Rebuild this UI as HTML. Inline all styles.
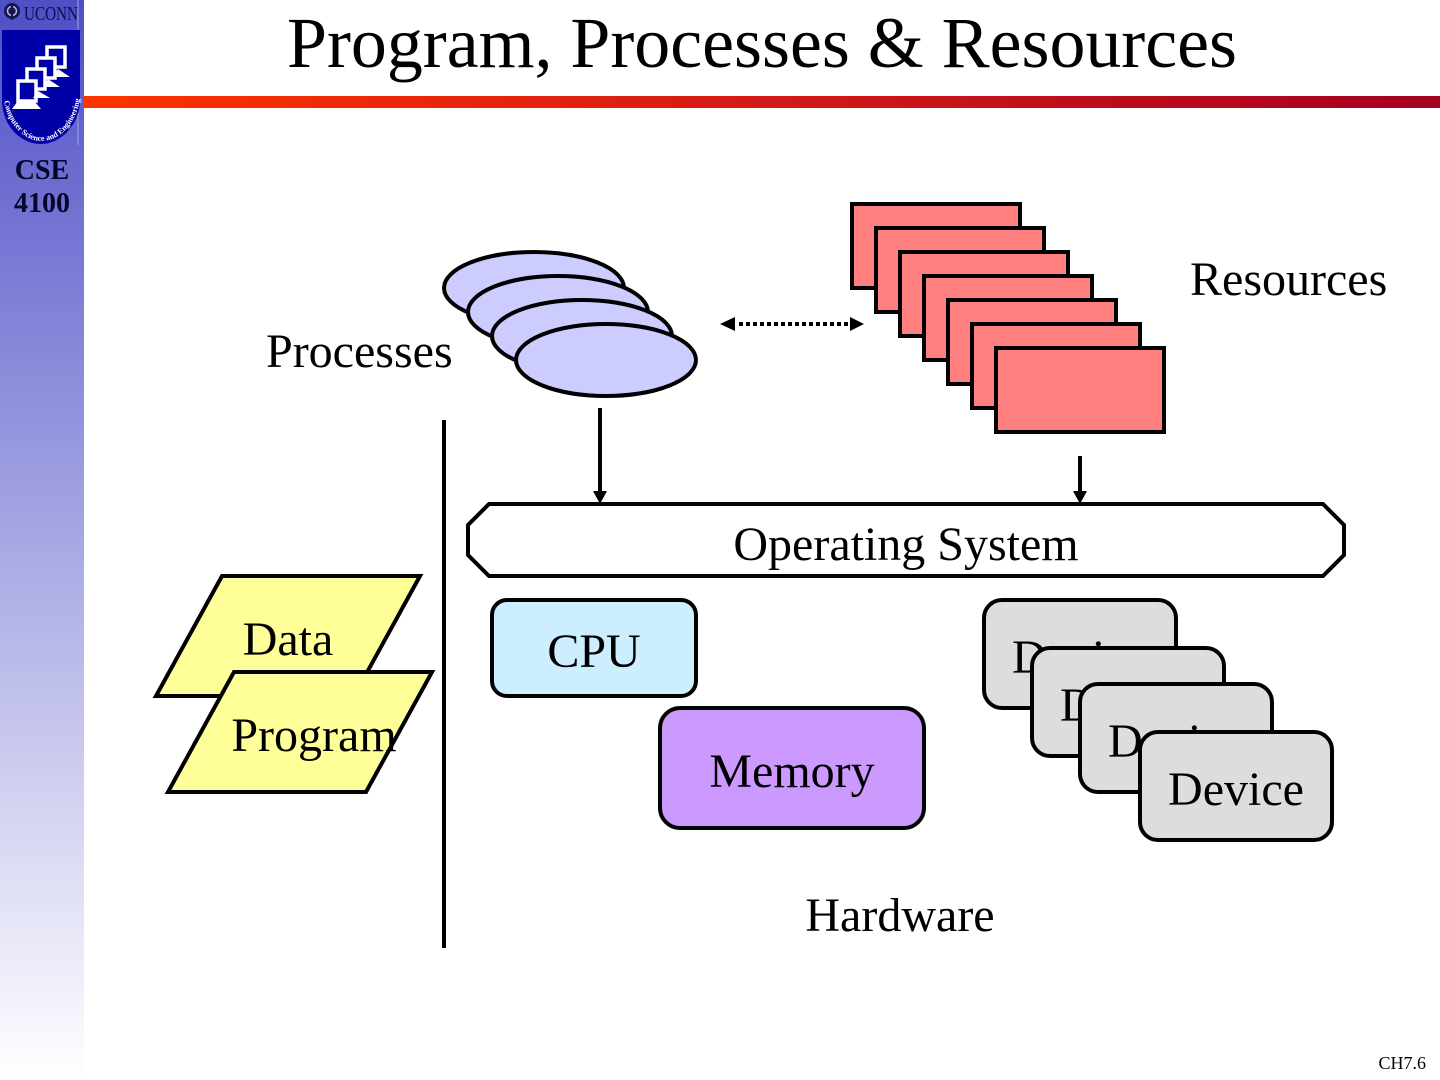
<!DOCTYPE html>
<html>
<head>
<meta charset="utf-8">
<style>
html,body{margin:0;padding:0;background:#fff;width:1440px;height:1080px;overflow:hidden}
svg{display:block}
text{font-family:"Liberation Serif",serif;fill:#000}
</style>
</head>
<body>
<svg width="1440" height="1080" viewBox="0 0 1440 1080" xmlns="http://www.w3.org/2000/svg">
<defs>
<linearGradient id="side" x1="0" y1="0" x2="0" y2="1">
<stop offset="0" stop-color="#4f4fc6"/>
<stop offset="0.5" stop-color="#a7a7e4"/>
<stop offset="1" stop-color="#ffffff"/>
</linearGradient>
<linearGradient id="bar" x1="0" y1="0" x2="1" y2="0">
<stop offset="0" stop-color="#ff3300"/>
<stop offset="0.5" stop-color="#d41a16"/>
<stop offset="1" stop-color="#a50021"/>
</linearGradient>
<path id="arc" d="M4 101 C8 125 25 141 41 141 C59 141 76 125 80 98"/>
</defs>

<rect x="0" y="0" width="84" height="1080" fill="url(#side)"/>
<rect x="84" y="96" width="1356" height="12" fill="url(#bar)"/>

<!-- logo -->
<text x="24" y="20" font-size="20" textLength="54" lengthAdjust="spacingAndGlyphs" style="fill:#0b0b50">UCONN</text>
<circle cx="12" cy="11" r="8" fill="#15154f"/>
<circle cx="12" cy="11" r="4.5" fill="none" stroke="#b8b8e0" stroke-width="1.5"/>
<line x1="12" y1="3" x2="12" y2="20" stroke="#15154f" stroke-width="2"/>
<line x1="78" y1="0" x2="78" y2="145" stroke="#a0a0e0" stroke-width="1"/>
<path d="M2 30 H80 V100 C80 125 60 144 41 144 C20 144 2 125 2 100 Z" fill="#0000a8"/>
<g fill="#0000a8" stroke="#fff" stroke-width="3.5">
<rect x="47" y="47" width="18" height="20"/>
<rect x="37" y="58" width="18" height="20"/>
<rect x="27" y="69" width="18" height="20"/>
<rect x="18" y="81" width="18" height="20"/>
</g>
<g fill="#fff">
<polygon points="58,69 70,77 53,77"/>
<polygon points="48,79 60,87 43,87"/>
<polygon points="38,91 50,98 33,98"/>
<polygon points="17,102 35,102 41,109 12,109"/>
</g>
<text font-size="8" font-weight="bold" style="fill:#fff"><textPath href="#arc">Computer Science and Engineering</textPath></text>

<text x="42" y="179" font-size="28" font-weight="bold" text-anchor="middle" style="fill:#05052e">CSE</text>
<text x="42" y="212" font-size="28" font-weight="bold" text-anchor="middle" style="fill:#05052e">4100</text>

<!-- title -->
<text x="287" y="67" font-size="72" textLength="950" lengthAdjust="spacingAndGlyphs">Program, Processes &amp; Resources</text>

<!-- resources -->
<g fill="#ff8080" stroke="#000" stroke-width="4">
<rect x="852" y="204" width="168" height="84"/>
<rect x="876" y="228" width="168" height="84"/>
<rect x="900" y="252" width="168" height="84"/>
<rect x="924" y="276" width="168" height="84"/>
<rect x="948" y="300" width="168" height="84"/>
<rect x="972" y="324" width="168" height="84"/>
<rect x="996" y="348" width="168" height="84"/>
</g>
<text x="1190" y="295" font-size="48">Resources</text>

<!-- processes -->
<g fill="#ccccff" stroke="#000" stroke-width="4">
<ellipse cx="534" cy="288" rx="90" ry="36"/>
<ellipse cx="558" cy="312" rx="90" ry="36"/>
<ellipse cx="582" cy="336" rx="90" ry="36"/>
<ellipse cx="606" cy="360" rx="90" ry="36"/>
</g>
<text x="266" y="367" font-size="48">Processes</text>

<!-- dotted double arrow -->
<line x1="739" y1="324" x2="851" y2="324" stroke="#000" stroke-width="4" stroke-dasharray="4 3"/>
<polygon points="720,324 735,317 735,331" fill="#000"/>
<polygon points="864,324 850,317 850,331" fill="#000"/>

<!-- divider -->
<line x1="444" y1="420" x2="444" y2="948" stroke="#000" stroke-width="4"/>

<!-- arrows to OS -->
<line x1="600" y1="408" x2="600" y2="494" stroke="#000" stroke-width="4"/>
<polygon points="593,491 607,491 600,504" fill="#000"/>
<line x1="1080" y1="456" x2="1080" y2="494" stroke="#000" stroke-width="4"/>
<polygon points="1073,491 1087,491 1080,504" fill="#000"/>

<!-- OS -->
<polygon points="489,504 1323,504 1344,525 1344,555 1323,576 489,576 468,555 468,525" fill="#fff" stroke="#000" stroke-width="4"/>
<text x="906" y="560" font-size="48" text-anchor="middle">Operating System</text>

<!-- data / program -->
<polygon points="222,576 420,576 354,696 156,696" fill="#ffff99" stroke="#000" stroke-width="4"/>
<text x="288" y="655" font-size="48" text-anchor="middle">Data</text>
<polygon points="234,672 432,672 366,792 168,792" fill="#ffff99" stroke="#000" stroke-width="4"/>
<text x="314" y="751" font-size="48" text-anchor="middle">Program</text>

<!-- CPU -->
<rect x="492" y="600" width="204" height="96" rx="15" fill="#cceeff" stroke="#000" stroke-width="4"/>
<text x="594" y="667" font-size="48" text-anchor="middle">CPU</text>

<!-- Memory -->
<rect x="660" y="708" width="264" height="120" rx="20" fill="#cc99ff" stroke="#000" stroke-width="4"/>
<text x="792" y="787" font-size="48" text-anchor="middle">Memory</text>

<!-- devices -->
<g font-size="48" text-anchor="middle">
<rect x="984" y="600" width="192" height="108" rx="18" fill="#dddddd" stroke="#000" stroke-width="4"/>
<text x="1080" y="673">Device</text>
<rect x="1032" y="648" width="192" height="108" rx="18" fill="#dddddd" stroke="#000" stroke-width="4"/>
<text x="1128" y="721">Device</text>
<rect x="1080" y="684" width="192" height="108" rx="18" fill="#dddddd" stroke="#000" stroke-width="4"/>
<text x="1176" y="757">Device</text>
<rect x="1140" y="732" width="192" height="108" rx="18" fill="#dddddd" stroke="#000" stroke-width="4"/>
<text x="1236" y="805">Device</text>
</g>

<text x="900" y="931" font-size="48" text-anchor="middle">Hardware</text>
<text x="1426" y="1069" font-size="18" text-anchor="end">CH7.6</text>
</svg>
</body>
</html>
